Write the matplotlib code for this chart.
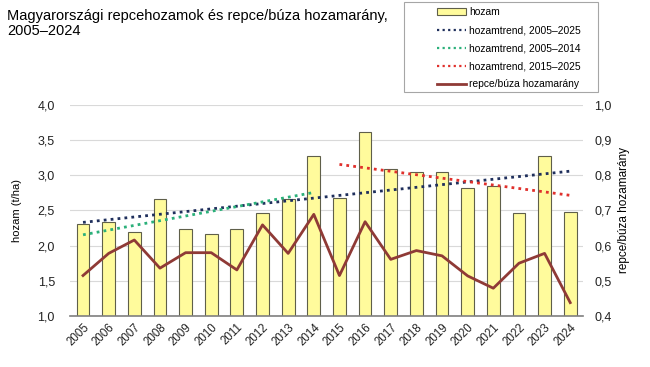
import numpy as np
import matplotlib
matplotlib.use("Agg")
import matplotlib.pyplot as plt
from matplotlib.patches import Rectangle, Patch
from matplotlib.lines import Line2D
from matplotlib.ticker import FuncFormatter, MultipleLocator

plt.rcParams['font.family'] = ['Liberation Sans', 'DejaVu Sans']

# adatok (leolvasva az ábráról)
evek = list(range(2005, 2025))
hozam = [2.31, 2.33, 2.20, 2.67, 2.23, 2.17, 2.23, 2.46, 2.67, 3.28,
         2.68, 3.61, 3.09, 3.04, 3.04, 2.82, 2.85, 2.47, 3.27, 2.48]
arany = [0.515, 0.578, 0.616, 0.536, 0.580, 0.580, 0.531, 0.659, 0.578, 0.689,
         0.515, 0.668, 0.561, 0.586, 0.571, 0.514, 0.479, 0.550, 0.578, 0.438]
trend_szakaszok = [
    ("hozamtrend, 2005–2025", 2005, 2024, "#1f2f5c"),
    ("hozamtrend, 2005–2014", 2005, 2014, "#2bb07a"),
    ("hozamtrend, 2015–2025", 2015, 2024, "#e0302c"),
]

cimke_bal = "hozam (t/ha)"
cimke_jobb = "repce/búza hozamarány"
cim = "Magyarországi repcehozamok és repce/búza hozamarány,\n2005–2024"

vesszo = FuncFormatter(lambda v, p: f"{v:.1f}".replace(".", ","))

fig = plt.figure(figsize=(6.5, 3.67), dpi=100)
ax = fig.add_axes([0.108, 0.139, 0.789, 0.575])
ax2 = ax.twinx()

x = np.arange(len(evek))
ev_arr = np.array(evek)
hozam_arr = np.array(hozam)

ax.set_axisbelow(True)
ax.grid(axis='y', color='#d9d9d9', linewidth=0.8)
ax.bar(x, hozam, width=0.5, color='#fffb9c', edgecolor='#5f5f4a', linewidth=0.8, zorder=2)

# trendvonalak (lineáris illesztés a hozamadatokra)
for nev, tol, ig, szin in trend_szakaszok:
    m = (ev_arr >= tol) & (ev_arr <= ig)
    k = np.polyfit(ev_arr[m], hozam_arr[m], 1)
    ax.plot(x[m], np.polyval(k, ev_arr[m]), linestyle=(0, (1, 1.5)), color=szin,
            linewidth=2.0, zorder=3)

ax2.plot(x, arany, color='#8f3a36', linewidth=2.0, zorder=4)

ax.set_xlim(-0.5, len(evek) - 0.5)
ax.set_ylim(1.0, 4.0)
ax2.set_ylim(0.4, 1.0)
ax.yaxis.set_major_locator(MultipleLocator(0.5))
ax2.yaxis.set_major_locator(MultipleLocator(0.1))
ax.yaxis.set_major_formatter(vesszo)
ax2.yaxis.set_major_formatter(vesszo)

ax.set_xticks(x)
ax.set_xticklabels([str(e) for e in evek], rotation=45, ha='right',
                   rotation_mode='anchor', fontsize=8.3)
for a in (ax, ax2):
    a.tick_params(length=0, labelsize=9, colors='#222222')
    for s in a.spines.values():
        s.set_visible(False)
ax.tick_params(axis='y', pad=11)
ax2.tick_params(axis='y', pad=8)
ax.tick_params(axis='x', pad=4, labelsize=8.3)
ax.spines['bottom'].set_visible(True)
ax.spines['bottom'].set_color('#7f7f7f')
ax.spines['bottom'].set_linewidth(1.2)

ax.set_ylabel(cimke_bal, fontsize=8, labelpad=11)
ax2.set_ylabel(cimke_jobb, fontsize=8.5, labelpad=5)

fig.text(0.011, 0.975, cim, fontsize=10.5, va='top', ha='left', linespacing=1.1)

# jelmagyarázat
kezelok = [Patch(facecolor='#fffb9c', edgecolor='#5f5f4a', linewidth=0.8)]
nevek = ["hozam"]
for nev, tol, ig, szin in trend_szakaszok:
    kezelok.append(Line2D([], [], linestyle=(0, (1, 1.5)), color=szin, linewidth=1.6))
    nevek.append(nev)
kezelok.append(Line2D([], [], color='#8f3a36', linewidth=2.0))
nevek.append("repce/búza hozamarány")

fig.patches.append(Rectangle((404 / 650, 1 - 92 / 367), 194 / 650, 90 / 367,
                             transform=fig.transFigure, fill=False,
                             edgecolor='#a6a6a6', linewidth=0.8))
fig.legend(kezelok, nevek, loc='upper left', bbox_to_anchor=(429 / 650, 1 + 1 / 367),
           frameon=False, fontsize=7.4, handlelength=2.8, handleheight=0.6,
           handletextpad=0.3, labelspacing=0.78, borderpad=0.3)

fig.savefig("out.png", dpi=100)
